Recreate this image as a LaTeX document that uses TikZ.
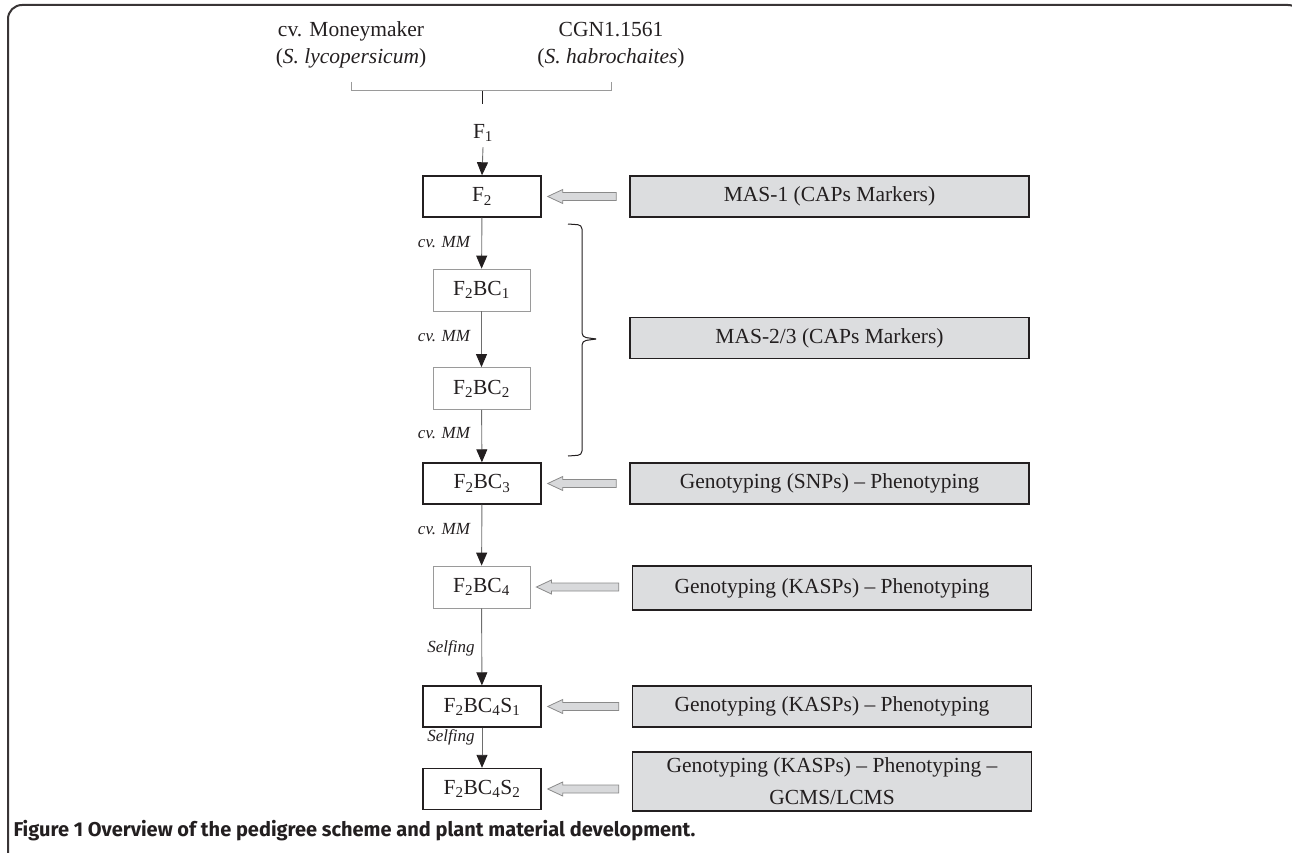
\documentclass[tikz,border=0pt]{standalone}
\usepackage{fontspec}
\setmainfont{Liberation Serif}
\newfontfamily\capfont{Fira Sans}
\usetikzlibrary{arrows.meta}
\definecolor{ink}{HTML}{231F20}
\definecolor{boxfill}{HTML}{DCDDDF}
\definecolor{lightline}{HTML}{9A9A9A}
\definecolor{flowline}{HTML}{6E6E6E}
\definecolor{hollowfill}{HTML}{D8D9DB}
\definecolor{hollowline}{HTML}{8A8A8A}
\begin{document}
\begin{tikzpicture}[x=1pt,y=-1pt,
  font=\fontsize{21.5}{27}\selectfont, text=ink,
  gen/.style={draw=ink, line width=1.4pt, minimum width=118pt, minimum height=41pt, inner sep=0pt},
  genlight/.style={draw=lightline, line width=0.8pt, minimum width=97pt, minimum height=42pt, inner sep=0pt},
  task/.style={draw=ink, line width=1.4pt, fill=boxfill, minimum width=399pt, minimum height=41pt, inner sep=0pt, align=center},
  lab/.style={font=\fontsize{17}{20}\selectfont\itshape},
  flow/.style={draw=flowline, line width=0.9pt, -{Triangle[width=11pt,length=13pt,color=ink]}},
  hollow/.style={draw=hollowline, fill=hollowfill, line width=0.8pt},
  bracket/.style={draw=lightline, line width=1pt},
  bracebar/.style={draw=ink, line width=1pt, rounded corners=4pt},
]
\useasboundingbox (0,0) rectangle (1292,853);
% outer frame
\draw[ink!90, line width=2pt, rounded corners=14pt] (8,5) rectangle (1302,900);

% parents
\node[align=center] (mm) at (351,45) {cv. Moneymaker\\(\textit{S. lycopersicum})};
\node[align=center] (cgn) at (611,45) {CGN1.1561\\(\textit{S. habrochaites})};
\coordinate (jl) at (351,82);
\coordinate (jr) at (611,82);
\coordinate (jm) at (482,91);
\coordinate (jd) at (482,104);
\draw[bracket] (jl) -- (jl |- jm) -- (jr |- jm) -- (jr);
\draw[draw=ink, line width=1pt] (jm) -- (jd);

\node (f1) at (483,133) {F\textsubscript{1}};

% generations
\node[gen]      (f2)   at (482,196.5) {F\textsubscript{2}};
\node[genlight] (bc1)  at (481.5,290) {F\textsubscript{2}BC\textsubscript{1}};
\node[genlight] (bc2)  at (481.5,388.5) {F\textsubscript{2}BC\textsubscript{2}};
\node[gen]      (bc3)  at (482,483.5) {F\textsubscript{2}BC\textsubscript{3}};
\node[genlight] (bc4)  at (481.5,587) {F\textsubscript{2}BC\textsubscript{4}};
\node[gen]      (s1)   at (482,706.5) {F\textsubscript{2}BC\textsubscript{4}S\textsubscript{1}};
\node[gen]      (s2)   at (482,789) {F\textsubscript{2}BC\textsubscript{4}S\textsubscript{2}};

% flow arrows
\draw[flow] (f1.south) ++(0,2) -- (f2.north);
\draw[flow] (f2) -- (bc1);
\draw[flow] (bc1) -- (bc2);
\draw[flow] (bc2) -- (bc3);
\draw[flow] (bc3) -- (bc4);
\draw[flow] (bc4) -- (s1);
\draw[flow] (s1) -- (s2);

% labels
\node[lab] (l1) at (444,242) {cv. MM};
\node[lab] (l2) at (444,336) {cv. MM};
\node[lab] (l3) at (444,433) {cv. MM};
\node[lab] (l4) at (444,529) {cv. MM};
\node[lab] (l5) at (451,648) {Selfing};
\node[lab] (l6) at (451,737) {Selfing};

% task boxes
\node[task] (t1) at (829.5,196.5) {MAS-1 (CAPs Markers)};
\node[task] (t2) at (829.5,338) {MAS-2/3 (CAPs Markers)};
\node[task] (t3) at (829.5,483.5) {Genotyping (SNPs) -- Phenotyping};
\node[task, minimum height=44pt] (t4) at (832,588) {Genotyping (KASPs) -- Phenotyping};
\node[task] (t5) at (832,706.5) {Genotyping (KASPs) -- Phenotyping};
\node[task, minimum height=59pt, font=\fontsize{21.5}{32}\selectfont] (t6) at (832,781.5) {Genotyping (KASPs) -- Phenotyping --\\GCMS/LCMS};

% hollow arrows
\newcommand\hollowarrow[2]{%
  \path ([xshift=6pt]#2.east) coordinate (e);
  \path (#1.west |- e) ++(-13,0) coordinate (s);
  \draw[hollow] (e) -- ([shift={(15,-7)}]e) -- ([shift={(15,-4)}]e) -- ([shift={(0,-4)}]s)
    -- ([shift={(0,4)}]s) -- ([shift={(15,4)}]e) -- ([shift={(15,7)}]e) -- cycle;}
\hollowarrow{t1}{f2}
\hollowarrow{t3}{bc3}
\hollowarrow{t4}{bc4}
\hollowarrow{t5}{s1}
\hollowarrow{t6}{s2}

% brace
\coordinate (bt) at (568,224);
\coordinate (bm) at (596,339);
\coordinate (bb) at (568,456);
\draw[bracebar] (bt) -- (582,225) -- (582,337) -- (bm);
\draw[bracebar] (bm) -- (582,341) -- (582,455) -- (bb);

% caption
\node[anchor=west, font=\capfont\bfseries\fontsize{20}{22}\selectfont, text=ink] (cap) at (10,831)
  {Figure 1 Overview of the pedigree scheme and plant material development.};
\end{tikzpicture}
\end{document}
